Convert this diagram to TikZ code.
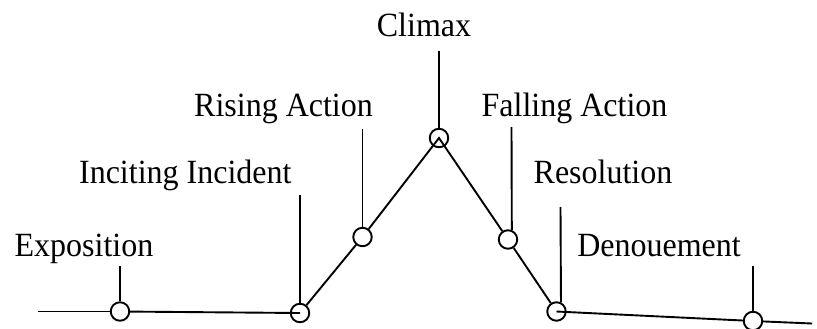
\documentclass[tikz,border=0pt]{standalone}
\usepackage{fontspec}
\usepackage{graphicx}
\setmainfont{Liberation Serif}
\newcommand{\beattext}[1]{\scalebox{1}[1.06]{#1}}
\begin{document}
\begin{tikzpicture}[x=1bp,y=-1bp,
  plotline/.style={line width=1.9bp,black},
  beat/.style={circle,draw,line width=1.9bp,minimum size=18.5bp,inner sep=0pt},
  beatlabel/.style={anchor=base,inner sep=0pt,font=\fontsize{32bp}{36bp}\selectfont}]
\useasboundingbox (0,0) rectangle (817,328);

% story beats along the plot line
\node[beat] (expo) at (120,311.5) {};
\node[beat] (inc)  at (300,313) {};
\node[beat] (rise) at (362.5,237) {};
\node[beat] (clim) at (439,138) {};
\node[beat] (fall) at (508,239.5) {};
\node[beat] (res)  at (556.5,311.5) {};
\node[beat] (den)  at (753,321) {};
\coordinate (start) at (38,311.5);
\coordinate (finish) at (812,323.5);

% the plot line
\draw[plotline] (start) -- (expo);
\draw[plotline] (expo) -- (inc.center);
\draw[plotline] (inc) -- (rise);
\draw[plotline] (rise) -- (clim.center) -- (fall);
\draw[plotline] (fall) -- (res);
\draw[plotline] (res.center) -- (den);
\draw[plotline] (den) -- (finish);

% labels
\node[beatlabel] (lexpo) at (84,256.5) {\beattext{Exposition}};
\node[beatlabel] (linc)  at (185.3,183.3) {\beattext{Inciting Incident}};
\node[beatlabel] (lrise) at (283.5,116.7) {\beattext{Rising Action}};
\node[beatlabel] (lclim) at (424,36.5) {\beattext{Climax}};
\node[beatlabel] (lfall) at (574.5,116.7) {\beattext{Falling Action}};
\node[beatlabel] (lres)  at (603,183.3) {\beattext{Resolution}};
\node[beatlabel] (lden)  at (659,256.5) {\beattext{Denouement}};

% pointer ticks above the beats
\coordinate (texpo) at (120,266);
\coordinate (tinc)  at (300,195);
\coordinate (trise) at (362.5,129);
\coordinate (tclim) at (439,51);
\coordinate (tfall) at (511.5,127);
\coordinate (tres)  at (560.5,207);
\coordinate (tden)  at (753,266);
\draw[plotline] (texpo) -- (expo.north);
\draw[plotline] (tinc) -- (inc.north);
\draw[plotline] (trise) -- (rise.north);
\draw[plotline] (tclim) -- (clim.north);
\draw[plotline] (tfall) -- (fall.68);
\draw[plotline] (tres) -- (res.64);
\draw[plotline] (tden) -- (den.north);
\end{tikzpicture}
\end{document}
